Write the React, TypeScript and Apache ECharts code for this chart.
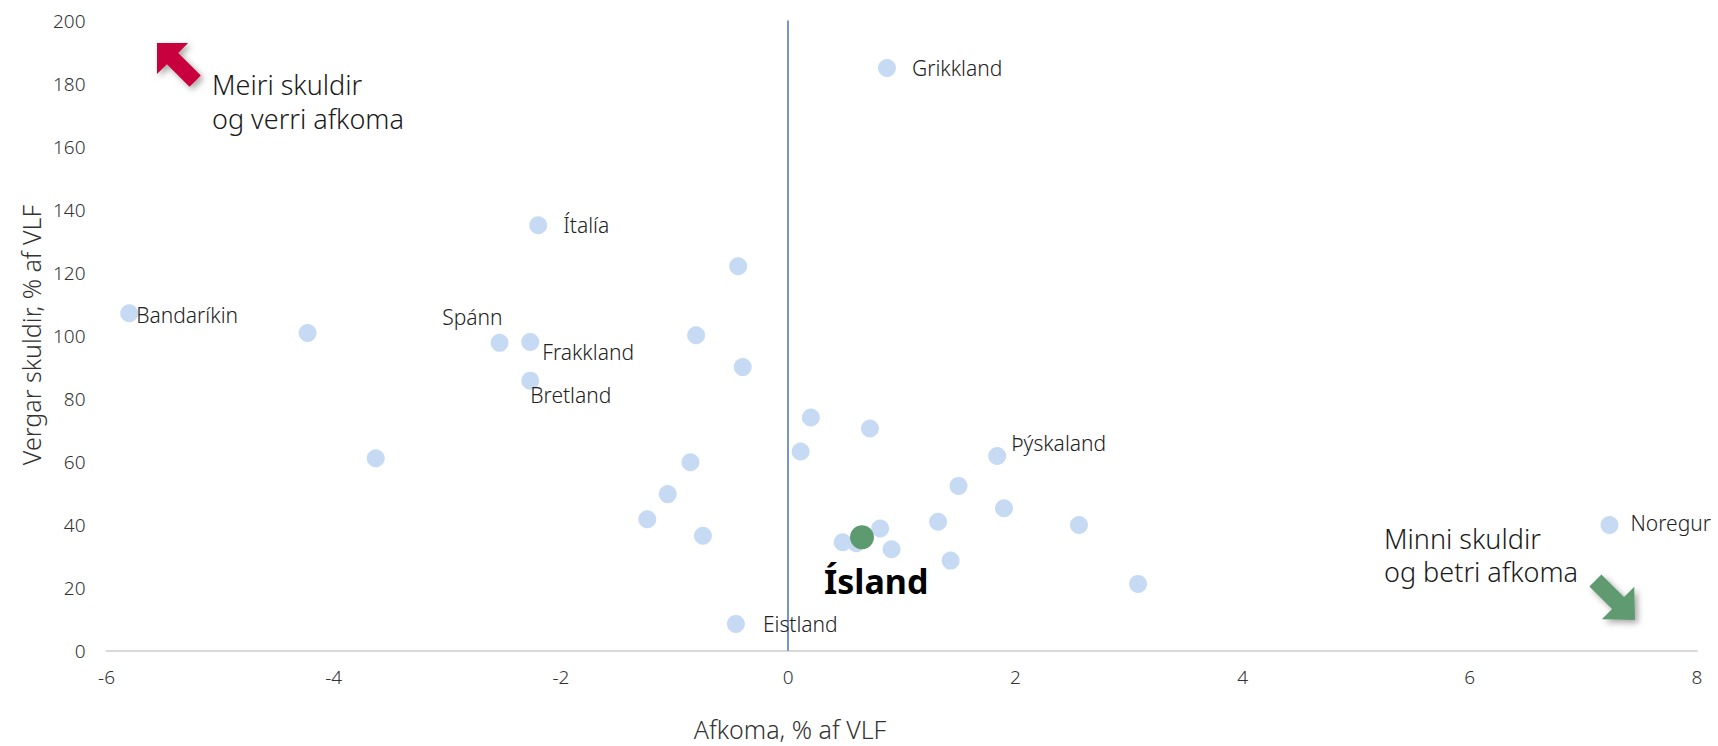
import React, { useEffect, useRef } from "react";
import * as echarts from "echarts";

// ---- Data ----
const countryNames = [
  "Grikkland", "Ítalía", "", "Bandaríkin", "", "Spánn", "Frakkland", "", "", "Bretland",
  "", "", "", "Þýskaland", "", "", "", "", "", "",
  "", "", "Noregur", "", "", "", "", "", "", "",
  "Eistland",
];
const afkoma = [
  0.87, -2.2, -0.44, -5.8, -4.23, -2.54, -2.27, -0.81, -0.4, -2.27,
  0.2, 0.72, 0.11, 1.84, -3.63, -0.86, 1.5, -1.06, 1.9, -1.24,
  1.32, 2.56, 7.23, 0.81, -0.75, 0.48, 0.6, 0.91, 1.43, 3.08,
  -0.46,
];
const skuldir = [
  184.9, 135.0, 122.0, 107.1, 100.8, 97.7, 98.0, 100.1, 90.0, 85.7,
  74.0, 70.5, 63.2, 61.8, 61.1, 59.8, 52.3, 49.7, 45.2, 41.7,
  40.9, 39.9, 39.9, 38.8, 36.5, 34.4, 34.1, 32.2, 28.6, 21.2,
  8.5,
];
const islandName = ["Ísland"];
const islandAfkoma = [0.65];
const islandSkuldir = [36.0];

const xTicks = { min: -6, max: 8, interval: 2 };
const yTicks = { min: 0, max: 200, interval: 20 };

const xTitle = "Afkoma, % af VLF";
const yTitle = "Vergar skuldir, % af VLF";
const noteTopLeft = "Meiri skuldir\nog verri afkoma";
const noteBottomRight = "Minni skuldir\nog betri afkoma";

// ---- Styling ----
const FONT = "'Noto Sans', 'Open Sans', sans-serif";
const labelPlacement: Record<string, { align: string; dx: number; dy: number }> = {
  Grikkland: { align: "left", dx: 25, dy: 0 },
  "Ítalía": { align: "left", dx: 25, dy: 0 },
  "Bandaríkin": { align: "left", dx: 7, dy: 2 },
  "Spánn": { align: "right", dx: 3, dy: -26 },
  Frakkland: { align: "left", dx: 12, dy: 10 },
  Bretland: { align: "left", dx: 0, dy: 14 },
  "Þýskaland": { align: "left", dx: 14, dy: -13 },
  Noregur: { align: "left", dx: 21, dy: -2 },
  Eistland: { align: "left", dx: 27, dy: 0 },
};

function arrowPolygon(tip: [number, number], angleDeg: number, len: number, headLen: number, headW: number, shaftW: number) {
  const a = (angleDeg * Math.PI) / 180;
  const ux = Math.cos(a), uy = Math.sin(a);
  const px = -uy, py = ux;
  const bx = tip[0] - ux * headLen, by = tip[1] - uy * headLen;
  const tx = tip[0] - ux * len, ty = tip[1] - uy * len;
  return [
    tip,
    [bx + px * headW / 2, by + py * headW / 2],
    [bx + px * shaftW / 2, by + py * shaftW / 2],
    [tx + px * shaftW / 2, ty + py * shaftW / 2],
    [tx - px * shaftW / 2, ty - py * shaftW / 2],
    [bx - px * shaftW / 2, by - py * shaftW / 2],
    [bx - px * headW / 2, by - py * headW / 2],
  ];
}

export default function App() {
  const ref = useRef<HTMLDivElement>(null);

  useEffect(() => {
    document.body.style.margin = "0";
    if (!ref.current) return;
    const chart = echarts.init(ref.current, undefined, { renderer: "svg" });

    const countryData = countryNames.map((n, i) => {
      const p = labelPlacement[n];
      return {
        name: n,
        value: [afkoma[i], skuldir[i]],
        label: p
          ? {
              show: true,
              position: "inside",
              align: p.align,
              verticalAlign: "middle",
              offset: [p.dx, p.dy],
            }
          : { show: false },
      };
    });

    const islandData = islandName.map((n, i) => ({
      name: n,
      value: [islandAfkoma[i], islandSkuldir[i]],
    }));

    const shadow = {
      shadowBlur: 6,
      shadowOffsetX: 3,
      shadowOffsetY: 3,
      shadowColor: "rgba(0,0,0,0.35)",
    };

    chart.setOption({
      animation: false,
      textStyle: { fontFamily: FONT },
      grid: { left: 106.5, right: 21, top: 20.5, bottom: 95.3, containLabel: false },
      xAxis: {
        type: "value",
        min: xTicks.min,
        max: xTicks.max,
        interval: xTicks.interval,
        axisLine: { show: true, onZero: false, lineStyle: { color: "#d9d9d9", width: 2 } },
        axisTick: { show: false },
        splitLine: { show: false },
        axisLabel: { color: "#333333", fontSize: 19, fontFamily: FONT, fontWeight: 300, margin: 17 },
      },
      yAxis: {
        type: "value",
        min: yTicks.min,
        max: yTicks.max,
        interval: yTicks.interval,
        axisLine: { show: false },
        axisTick: { show: false },
        splitLine: { show: false },
        axisLabel: { color: "#333333", fontSize: 19, fontFamily: FONT, fontWeight: 300, margin: 21 },
      },
      series: [
        {
          name: "Lönd",
          type: "scatter",
          symbolSize: 18,
          itemStyle: { color: "#c6dbf3", opacity: 1 },
          label: {
            color: "#222222",
            fontSize: 21,
            fontFamily: FONT,
            fontWeight: 300,
            formatter: "{b}",
          },
          data: countryData,
          markLine: {
            silent: true,
            symbol: "none",
            label: { show: false },
            lineStyle: { color: "#4472c4", width: 1.5, type: "solid" },
            data: [{ xAxis: 0 }],
            z: 1,
          },
          z: 2,
        },
        {
          name: "Ísland",
          type: "scatter",
          symbolSize: 24,
          itemStyle: { color: "#5e9a6f", opacity: 1 },
          label: {
            show: true,
            position: "inside",
            align: "left",
            verticalAlign: "middle",
            offset: [-38, 44],
            formatter: "{b}",
            color: "#000000",
            fontSize: 34,
            fontWeight: "bold",
            fontFamily: FONT,
          },
          data: islandData,
          z: 3,
        },
      ],
      graphic: [
        {
          type: "text",
          x: 790,
          y: 729,
          style: {
            text: xTitle,
            fill: "#333333",
            font: `300 25px ${FONT}`,
            textAlign: "center",
            textVerticalAlign: "middle",
          },
        },
        {
          type: "text",
          x: 31,
          y: 335,
          rotation: Math.PI / 2,
          style: {
            text: yTitle,
            fill: "#333333",
            font: `300 25px ${FONT}`,
            textAlign: "center",
            textVerticalAlign: "middle",
          },
        },
        {
          type: "text",
          x: 212,
          y: 101.5,
          style: {
            text: noteTopLeft,
            fill: "#1a1a1a",
            font: `300 27px ${FONT}`,
            lineHeight: 33.5,
            textAlign: "left",
            textVerticalAlign: "middle",
          },
        },
        {
          type: "text",
          x: 1384,
          y: 555,
          style: {
            text: noteBottomRight,
            fill: "#1a1a1a",
            font: `300 27px ${FONT}`,
            lineHeight: 33.5,
            textAlign: "left",
            textVerticalAlign: "middle",
          },
        },
        {
          type: "polygon",
          shape: { points: arrowPolygon([157, 43], 225, 54, 22, 44, 16) },
          style: { fill: "#c8003c", ...shadow },
        },
        {
          type: "polygon",
          shape: { points: arrowPolygon([1635, 620], 45, 56, 24, 46, 17) },
          style: { fill: "#5e9a6f", ...shadow },
        },
      ],
    });

    return () => chart.dispose();
  }, []);

  return <div ref={ref} style={{ width: 1718, height: 746 }} />;
}
